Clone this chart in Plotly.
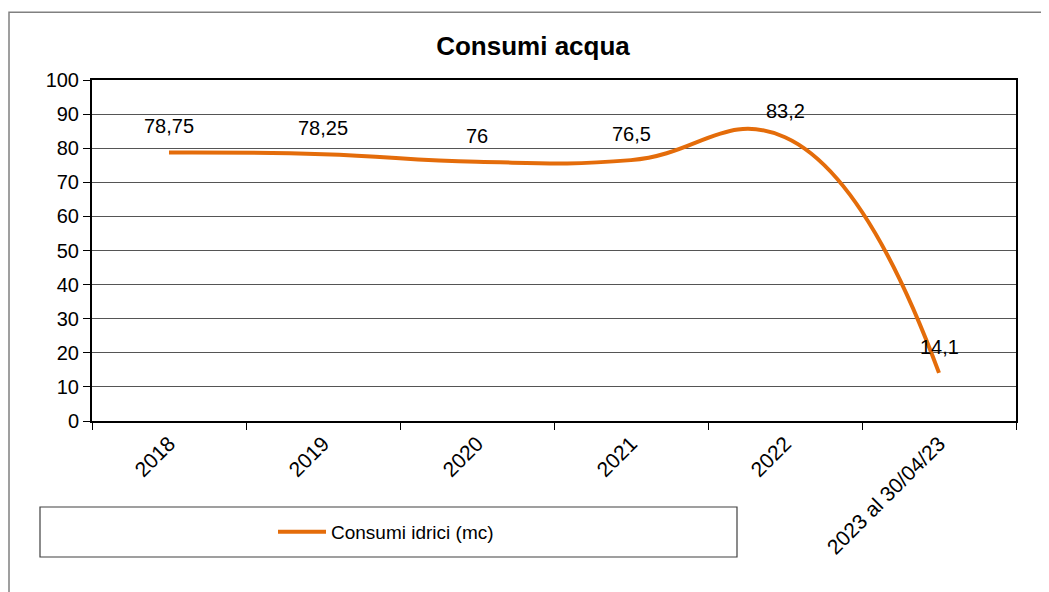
import plotly.graph_objects as go

anni = ["2018", "2019", "2020", "2021", "2022", "2023 al 30/04/23"]
consumi = [78.75, 78.25, 76, 76.5, 83.2, 14.1]
etichette = [("%g" % v).replace(".", ",") for v in consumi]
y_ticks = list(range(0, 101, 10))

FONT = "Liberation Sans, Arial, sans-serif"
ARANCIO = "#E46C0A"

fig = go.Figure()

fig.add_trace(go.Scatter(
    x=anni,
    y=consumi,
    mode="lines",
    name="Consumi idrici (mc)",
    line=dict(color=ARANCIO, width=4, shape="spline", smoothing=1.3),
    hoverinfo="x+y",
))

# etichette dei valori sopra i punti (indice di categoria, "2018" verrebbe letto come numero)
for i, (val, txt) in enumerate(zip(consumi, etichette)):
    fig.add_annotation(x=i, y=val, text=txt, showarrow=False,
                       yshift=26, font=dict(family=FONT, size=20, color="black"))

# bordo esterno del grafico e riquadro della legenda
fig.add_shape(type="rect", xref="paper", yref="paper",
              x0=(9 - 92) / 924, x1=1.2, y0=-0.7, y1=1.199,
              line=dict(color="#808080", width=1.5), layer="below")
fig.add_shape(type="rect", xref="paper", yref="paper",
              x0=(40 - 92) / 924, x1=(737 - 92) / 924,
              y0=(421 - 557) / 341, y1=(421 - 507) / 341,
              line=dict(color="#404040", width=1.2))

fig.update_layout(
    width=1041, height=584,
    margin=dict(l=84, r=33, t=72, b=171),
    paper_bgcolor="white",
    plot_bgcolor="white",
    title=dict(text="<b>Consumi acqua</b>", x=525 / 1041, xanchor="center",
               y=1 - 38 / 584, yanchor="middle",
               font=dict(family=FONT, size=26, color="black")),
    showlegend=True,
    legend=dict(x=(273 - 92) / 924, xanchor="left", y=(421 - 532) / 341, yanchor="middle",
                bgcolor="rgba(0,0,0,0)", font=dict(family=FONT, size=19, color="black"),
                itemwidth=48),
    font=dict(family=FONT, color="black"),
)

fig.update_xaxes(
    type="category",
    range=[-0.5, 5.5],
    showgrid=False,
    showline=True, linecolor="black", linewidth=2, mirror=True,
    ticks="outside", tickson="boundaries", ticklen=7, tickcolor="black", tickwidth=1,
    tickangle=-45,
    tickfont=dict(family=FONT, size=21, color="black"),
)
fig.update_yaxes(
    range=[0, 100],
    tickvals=y_ticks,
    showgrid=True, gridcolor="#555555", gridwidth=1,
    showline=True, linecolor="black", linewidth=2, mirror=True,
    ticks="outside", ticklen=7, tickcolor="black", tickwidth=1,
    tickfont=dict(family=FONT, size=20, color="black"),
    zeroline=False,
)

fig.write_html("out.html")
